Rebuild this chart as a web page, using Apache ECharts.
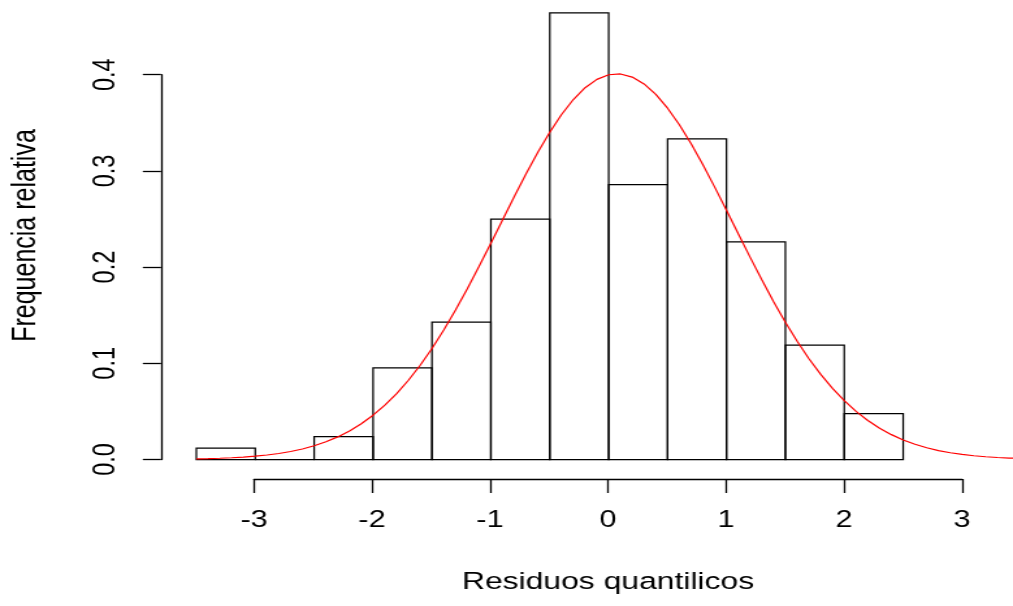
<!DOCTYPE html>
<html>
<head>
<meta charset="utf-8">
<script src="https://cdn.jsdelivr.net/npm/echarts@6/dist/echarts.min.js"></script>
<style>
  html, body { margin: 0; padding: 0; background: #fff; overflow: hidden; }
  #main { width: 779px; height: 606px; transform-origin: 0 0; }
</style>
</head>
<body>
<div id="main"></div>
<script>
// Histogram of quantile residuals (relative frequency, bin width 0.5)
const binEdges = [-3.5, -3, -2.5, -2, -1.5, -1, -0.5, 0, 0.5, 1, 1.5, 2, 2.5];
const density  = [0.0119, 0, 0.0238, 0.0952, 0.1429, 0.25, 0.4643, 0.2857, 0.3333, 0.2262, 0.119, 0.0476];

// Fitted normal density curve, sampled every 0.1 from -3.5 to 3.5
const curveX = [
  -3.5, -3.4, -3.3, -3.2, -3.1, -3.0, -2.9, -2.8, -2.7, -2.6, -2.5, -2.4, -2.3, -2.2, -2.1,
  -2.0, -1.9, -1.8, -1.7, -1.6, -1.5, -1.4, -1.3, -1.2, -1.1, -1.0, -0.9, -0.8, -0.7, -0.6,
  -0.5, -0.4, -0.3, -0.2, -0.1, 0.0, 0.1, 0.2, 0.3, 0.4, 0.5, 0.6, 0.7, 0.8, 0.9,
  1.0, 1.1, 1.2, 1.3, 1.4, 1.5, 1.6, 1.7, 1.8, 1.9, 2.0, 2.1, 2.2, 2.3, 2.4,
  2.5, 2.6, 2.7, 2.8, 2.9, 3.0, 3.1, 3.2, 3.3, 3.4, 3.5
];
const curveY = [
  0.00064, 0.00092, 0.00129, 0.00181, 0.00251, 0.00344, 0.00466, 0.00626, 0.00832, 0.01095,
  0.01427, 0.01841, 0.02350, 0.02971, 0.03718, 0.04605, 0.05648, 0.06856, 0.08240, 0.09804,
  0.11546, 0.13463, 0.15539, 0.17755, 0.20084, 0.22488, 0.24929, 0.27356, 0.29720, 0.31961,
  0.34026, 0.35861, 0.37417, 0.38645, 0.39513, 0.39995, 0.40076, 0.39753, 0.39037, 0.37948,
  0.36519, 0.34791, 0.32812, 0.30634, 0.28312, 0.25904, 0.23463, 0.21038, 0.18675, 0.16409,
  0.14275, 0.12293, 0.10479, 0.08844, 0.07390, 0.06111, 0.05004, 0.04055, 0.03253, 0.02584,
  0.02032, 0.01582, 0.01219, 0.00930, 0.00702, 0.00525, 0.00389, 0.00285, 0.00206, 0.00148,
  0.00105
];

const xTickLabels = ['-3', '-2', '-1', '0', '1', '2', '3'];
const yTickLabels = ['0.0', '0.1', '0.2', '0.3', '0.4'];

// The device is wider than it is tall: draw on a narrower canvas and stretch it horizontally.
const STRETCH = 1013 / 779;
document.getElementById('main').style.transform = 'scaleX(' + STRETCH + ')';
const px = v => v / STRETCH;

// layout in device pixels
const X0_PX = 608, UNIT_X = 118;        // x = 0 position, pixels per unit
const Y0_PX = 459.5, UNIT_Y = 962;      // y = 0 position, pixels per unit
const plotLeft = 195, plotRight = 1013, plotTop = 11.5;

const FONT = "'Liberation Sans', Arial, sans-serif";
const INK = '#000';

const bars = density.map((d, i) => [binEdges[i], binEdges[i + 1], d]);
const curve = curveX.map((x, i) => [x, curveY[i]]);

const chart = echarts.init(document.getElementById('main'), null, { renderer: 'canvas' });

chart.setOption({
  animation: false,
  backgroundColor: '#fff',
  grid: [
    { // data region
      left: px(plotLeft), top: plotTop,
      width: px(plotRight - plotLeft), height: Y0_PX - plotTop
    },
    { // x axis (from -3 to 3)
      left: px(X0_PX - 3 * UNIT_X), width: px(6 * UNIT_X),
      top: 478, height: 1
    },
    { // y axis (from 0 to 0.4)
      left: px(161), width: 1,
      top: Y0_PX - 0.4 * UNIT_Y, height: 0.4 * UNIT_Y
    }
  ],
  xAxis: [
    {
      gridIndex: 0, type: 'value',
      min: (plotLeft - X0_PX) / UNIT_X, max: (plotRight - X0_PX) / UNIT_X,
      show: false
    },
    {
      gridIndex: 1, type: 'value', min: -3, max: 3, interval: 1,
      position: 'bottom',
      axisLine: { show: true, lineStyle: { color: INK, width: 1.3 } },
      axisTick: { show: true, inside: false, length: 14, lineStyle: { color: INK, width: 1.3 } },
      splitLine: { show: false },
      axisLabel: {
        show: true, margin: 30, color: INK, fontFamily: FONT, fontSize: 23.5,
        formatter: v => xTickLabels[Math.round(v) + 3]
      },
      name: 'Residuos quantilicos',
      nameLocation: 'middle', nameGap: 91,
      nameTextStyle: { color: INK, fontFamily: FONT, fontSize: 24.5 }
    },
    { gridIndex: 2, type: 'value', show: false }
  ],
  yAxis: [
    {
      gridIndex: 0, type: 'value', min: 0, max: (Y0_PX - plotTop) / UNIT_Y,
      axisLine: { show: false }, axisTick: { show: false },
      axisLabel: { show: false }, splitLine: { show: false },
      name: 'Frequencia relativa',
      nameLocation: 'middle', nameRotate: 90, nameGap: 118,
      nameTextStyle: { color: INK, fontFamily: FONT, fontSize: 25 }
    },
    { gridIndex: 1, type: 'value', show: false },
    {
      gridIndex: 2, type: 'value', min: 0, max: 0.4, interval: 0.1,
      position: 'left',
      axisLine: { show: true, lineStyle: { color: INK, width: 1.3 } },
      axisTick: { show: true, inside: false, length: 14, lineStyle: { color: INK, width: 1.3 } },
      splitLine: { show: false },
      axisLabel: {
        show: true, rotate: 90, margin: 30, color: INK, fontFamily: FONT, fontSize: 23.5,
        formatter: v => yTickLabels[Math.round(v * 10)]
      }
    }
  ],
  series: [
    {
      type: 'custom',
      xAxisIndex: 0, yAxisIndex: 0,
      data: bars,
      encode: { x: [0, 1], y: 2 },
      renderItem: (params, api) => {
        const top = api.coord([api.value(0), api.value(2)]);
        const base = api.coord([api.value(1), 0]);
        return {
          type: 'rect',
          shape: { x: top[0], y: top[1], width: base[0] - top[0], height: base[1] - top[1] },
          style: { fill: 'none', stroke: INK, lineWidth: 1.25 }
        };
      },
      z: 2
    },
    {
      type: 'line',
      xAxisIndex: 0, yAxisIndex: 0,
      data: curve,
      smooth: false,
      showSymbol: false,
      lineStyle: { color: '#ff0000', width: 1.2 },
      z: 3
    }
  ]
});
</script>
</body>
</html>
